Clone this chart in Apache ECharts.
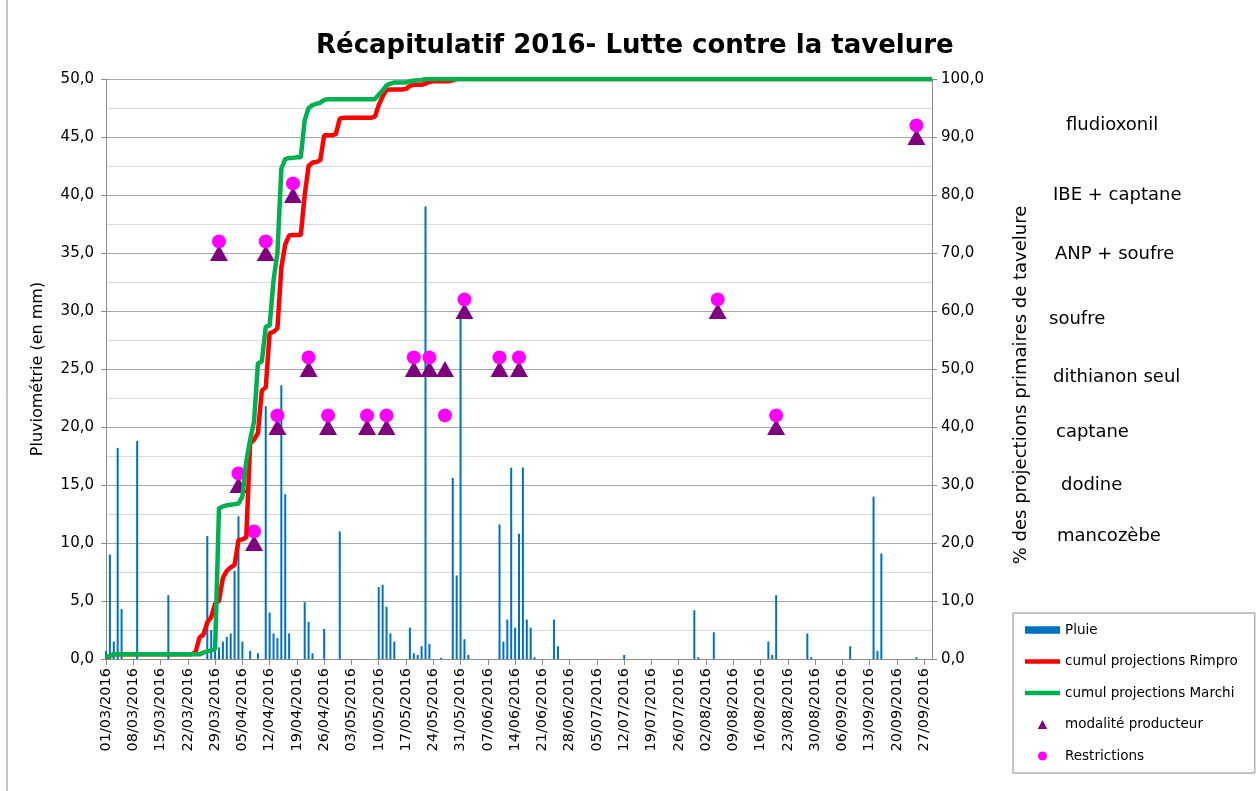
<!DOCTYPE html>
<html>
<head>
<meta charset="utf-8">
<script src="https://cdn.jsdelivr.net/npm/echarts@6/dist/echarts.min.js"></script>
<style>
	html, body { margin: 0; padding: 0; background: #fff; }
	#main { width: 1260px; height: 791px; }
</style>
</head>
<body>
<div id="main"></div>
<script>
// daily axis: 01/03/2016 -> 29/09/2016
var startDate = new Date(2016, 2, 1);
var nbDays = 213;

// rain (mm), by date
var rainDates = ['01/03','02/03','03/03','04/03','05/03','09/03','17/03','27/03','28/03','29/03','30/03','31/03',
	'01/04','02/04','03/04','04/04','05/04','07/04','09/04','11/04','12/04','13/04','14/04','15/04','16/04','17/04',
	'21/04','22/04','23/04','26/04','30/04','10/05','11/05','12/05','13/05','14/05','18/05','19/05','20/05','21/05',
	'22/05','23/05','26/05','29/05','30/05','31/05','01/06','02/06','10/06','11/06','12/06','13/06','14/06','15/06',
	'16/06','17/06','18/06','19/06','24/06','25/06','12/07','30/07','31/07','04/08','18/08','19/08','20/08','28/08',
	'29/08','08/09','14/09','15/09','16/09','25/09'];
var rainValues = [0.7,9.0,1.5,18.2,4.3,18.8,5.5,10.6,2.5,1.7,1.0,1.5,
	1.9,2.2,7.6,12.3,1.5,0.7,0.5,21.8,4.0,2.2,1.8,23.6,14.2,2.2,
	4.9,3.2,0.5,2.6,11.0,6.2,6.4,4.5,2.2,1.5,2.7,0.5,0.35,1.1,
	39.0,1.3,0.1,15.6,7.2,29.5,1.7,0.35,11.6,1.5,3.4,16.5,2.7,10.8,
	16.5,3.4,2.7,0.15,3.4,1.1,0.35,4.2,0.15,2.3,1.5,0.35,5.5,2.2,
	0.15,1.1,14.0,0.7,9.1,0.15];

// cumulative % of primary projections, one value per day
var rimpro = [
	0.3,0.5,0.8,0.8,0.8,0.8,0.8,0.8,0.8,0.8,
	0.8,0.8,0.8,0.8,0.8,0.8,0.8,0.8,0.8,0.8,
	0.8,0.8,0.8,1.2,3.7,4.2,6.3,7.2,9.5,10.0,
	14.0,15.2,15.8,16.2,20.5,20.6,21.0,37.2,37.8,39.0,
	46.3,46.8,56.2,56.4,57.0,67.5,71.5,73.0,73.1,73.1,
	73.1,80.0,85.0,85.6,85.7,86.0,90.3,90.3,90.3,90.5,
	93.2,93.3,93.3,93.3,93.3,93.3,93.3,93.3,93.3,93.5,
	95.5,97.0,98.1,98.2,98.2,98.2,98.2,98.3,98.8,99.0,
	99.0,99.0,99.2,99.5,99.6,99.6,99.6,99.6,99.6,99.8,
	100,100,100,100,100,100,100,100,100,100,
	100,100,100,100,100,100,100,100,100,100,
	100,100,100,100,100,100,100,100,100,100,
	100,100,100,100,100,100,100,100,100,100,
	100,100,100,100,100,100,100,100,100,100,
	100,100,100,100,100,100,100,100,100,100,
	100,100,100,100,100,100,100,100,100,100,
	100,100,100,100,100,100,100,100,100,100,
	100,100,100,100,100,100,100,100,100,100,
	100,100,100,100,100,100,100,100,100,100,
	100,100,100,100,100,100,100,100,100,100,
	100,100,100,100,100,100,100,100,100,100,
	100,100,100];
var marchi = [
	0.3,0.5,0.8,0.8,0.8,0.8,0.8,0.8,0.8,0.8,
	0.8,0.8,0.8,0.8,0.8,0.8,0.8,0.8,0.8,0.8,
	0.8,0.8,0.8,0.8,0.8,1.1,1.3,1.5,1.7,26.0,
	26.3,26.5,26.6,26.7,26.8,28.0,34.0,37.8,41.0,51.0,
	51.3,57.3,57.5,65.3,70.0,84.5,86.2,86.4,86.4,86.5,
	86.5,92.9,95.0,95.5,95.7,95.9,96.4,96.5,96.5,96.5,
	96.5,96.5,96.5,96.5,96.5,96.5,96.5,96.5,96.5,96.5,
	97.3,98.0,98.9,99.2,99.4,99.4,99.4,99.4,99.6,99.7,
	99.8,99.8,100,100,100,100,100,100,100,100,
	100,100,100,100,100,100,100,100,100,100,
	100,100,100,100,100,100,100,100,100,100,
	100,100,100,100,100,100,100,100,100,100,
	100,100,100,100,100,100,100,100,100,100,
	100,100,100,100,100,100,100,100,100,100,
	100,100,100,100,100,100,100,100,100,100,
	100,100,100,100,100,100,100,100,100,100,
	100,100,100,100,100,100,100,100,100,100,
	100,100,100,100,100,100,100,100,100,100,
	100,100,100,100,100,100,100,100,100,100,
	100,100,100,100,100,100,100,100,100,100,
	100,100,100,100,100,100,100,100,100,100,
	100,100,100];

// treatments (left axis position)
var treatDates = ['30/03','04/04','08/04','11/04','14/04','18/04','22/04','27/04','07/05','12/05',
	'19/05','23/05','27/05','01/06','10/06','15/06','05/08','20/08','25/09'];
var producteur = [35,15,10,35,20,40,25,20,20,20,25,25,25,30,25,25,30,20,45];
var restrictions = [36,16,11,36,21,41,26,21,21,21,26,26,21,31,26,26,31,21,46];

// product names shown on the right
var produits = ['fludioxonil','IBE + captane','ANP + soufre','soufre','dithianon seul','captane','dodine','mancozèbe'];
var produitsX = [1066,1053,1055,1049,1053,1056,1061,1057];
var produitsY = [124,194,253,318,376,431,484,535];

var comic = "'Comic Sans MS', 'DejaVu Sans', sans-serif";

function pad(n) { return n < 10 ? '0' + n : '' + n; }

var dates = [];
for (var i = 0; i < nbDays; i++) {
	var d = new Date(2016, 2, 1 + i);
	dates.push(pad(d.getDate()) + '/' + pad(d.getMonth() + 1) + '/2016');
}

function fr(v) { return v.toFixed(1).replace('.', ','); }

var rainData = [];
for (var i = 0; i < rainDates.length; i++) {
	rainData.push([rainDates[i] + '/2016', rainValues[i]]);
}
var prodData = [], restData = [];
for (var i = 0; i < treatDates.length; i++) {
	prodData.push([treatDates[i] + '/2016', producteur[i]]);
	restData.push([treatDates[i] + '/2016', restrictions[i]]);
}

var graphics = [{
	type: 'rect', silent: true,
	shape: { x: 7, y: -10, width: 1300, height: 840 },
	style: { fill: 'none', stroke: '#8c8c8c', lineWidth: 1 }
}];
for (var i = 0; i < produits.length; i++) {
	graphics.push({
		type: 'text', left: produitsX[i], top: produitsY[i] - 8,
		style: { text: produits[i], font: '18px ' + comic, fill: '#000' }
	});
}

// legend icons (width 35, height 9 box)
var iconRain = 'path://M0,0 h32 v7 h-32 z';
var iconLine = 'path://M0,0 h35 v4.5 h-35 z';
var iconTri = 'path://M0,0 M35,9 M12.5,9.5 L17.5,0 L22.5,9.5 Z';
var iconDot = 'path://M0,0 M35,9 M17.5,0 A4.5,4.5 0 1,1 17.49,0 Z';

var myChart = echarts.init(document.getElementById('main'));
var option = {
	animation: false,
	backgroundColor: '#fff',
	title: {
		text: 'Récapitulatif 2016- Lutte contre la tavelure',
		left: 311, top: 28,
		textStyle: { fontFamily: comic, fontSize: 26, fontWeight: 'bold', color: '#000' }
	},
	graphic: graphics,
	legend: {
		orient: 'vertical',
		left: 1013, top: 613,
		padding: [10, 17, 10, 12],
		itemWidth: 35, itemHeight: 9, itemGap: 17.5,
		backgroundColor: '#fff',
		borderColor: '#8c8c8c', borderWidth: 1,
		textStyle: { fontFamily: comic, fontSize: 13.5, color: '#000' },
		data: [
			{ name: 'Pluie', icon: iconRain },
			{ name: 'cumul projections Rimpro', icon: iconLine },
			{ name: 'cumul projections Marchi', icon: iconLine },
			{ name: 'modalité producteur', icon: iconTri },
			{ name: 'Restrictions', icon: iconDot }
		]
	},
	grid: { left: 106, right: 328, top: 79, bottom: 132 },
	xAxis: {
		type: 'category',
		data: dates,
		boundaryGap: false,
		axisLine: { lineStyle: { color: '#8c8c8c' } },
		axisTick: { interval: 6, length: 6, lineStyle: { color: '#8c8c8c' } },
		axisLabel: { interval: 6, rotate: 90, color: '#000', fontFamily: 'DejaVu Sans', fontSize: 14.5, margin: 9 },
		splitLine: { show: false }
	},
	yAxis: [{
		type: 'value', min: 0, max: 50, interval: 5,
		name: 'Pluviométrie (en mm)',
		nameLocation: 'middle', nameGap: 60,
		nameTextStyle: { fontFamily: comic, fontSize: 16, color: '#000' },
		axisLine: { show: true, lineStyle: { color: '#8c8c8c' } },
		axisTick: { show: true, length: 5, lineStyle: { color: '#8c8c8c' } },
		axisLabel: { formatter: fr, color: '#000', fontFamily: 'DejaVu Sans', fontSize: 15, margin: 12 },
		splitLine: { lineStyle: { color: '#a6a6a6' } },
		minorTick: { show: false, splitNumber: 2 },
		minorSplitLine: { show: true, lineStyle: { color: '#d9d9d9' } }
	}, {
		type: 'value', min: 0, max: 100, interval: 10,
		name: '% des projections primaires de tavelure',
		nameLocation: 'middle', nameGap: 80, nameRotate: 90,
		nameTextStyle: { fontFamily: comic, fontSize: 18, color: '#000', padding: [0, 32, 0, 0] },
		axisLine: { show: true, lineStyle: { color: '#8c8c8c' } },
		axisTick: { show: true, length: 5, lineStyle: { color: '#8c8c8c' } },
		axisLabel: { formatter: fr, color: '#000', fontFamily: 'DejaVu Sans', fontSize: 15, margin: 9 },
		splitLine: { show: false }
	}],
	series: [{
		name: 'Pluie', type: 'bar', yAxisIndex: 0,
		barWidth: 2,
		itemStyle: { color: '#0070C0' },
		data: rainData
	}, {
		name: 'cumul projections Rimpro', type: 'line', yAxisIndex: 1,
		symbol: 'none',
		lineStyle: { color: '#FF0000', width: 4.5 },
		itemStyle: { color: '#FF0000' },
		data: rimpro
	}, {
		name: 'cumul projections Marchi', type: 'line', yAxisIndex: 1,
		symbol: 'none',
		lineStyle: { color: '#00B050', width: 4.5 },
		itemStyle: { color: '#00B050' },
		data: marchi
	}, {
		name: 'modalité producteur', type: 'scatter', yAxisIndex: 0,
		symbol: 'triangle', symbolSize: [18, 16],
		itemStyle: { color: '#7F007F', opacity: 1 },
		data: prodData
	}, {
		name: 'Restrictions', type: 'scatter', yAxisIndex: 0,
		symbol: 'circle', symbolSize: 14,
		itemStyle: { color: '#FF00FF', opacity: 1 },
		data: restData
	}]
};
myChart.setOption(option);
</script>
</body>
</html>
